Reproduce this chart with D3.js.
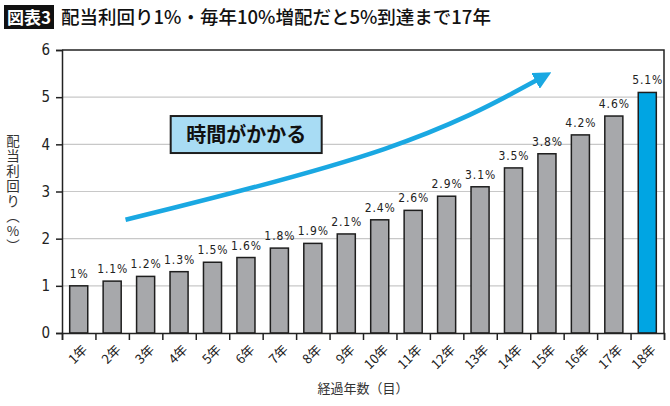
<!DOCTYPE html>
<html>
<head>
<meta charset="utf-8">
<script src="https://cdn.jsdelivr.net/npm/d3@7"></script>
<style>
  body { margin: 0; background: #fff; }
  svg { display: block; font-family: "Noto Sans CJK JP", "Noto Sans", sans-serif; }
  .vt { writing-mode: vertical-rl; text-orientation: upright; }
</style>
</head>
<body>
<div></div>
<script>
var years = ["1年","2年","3年","4年","5年","6年","7年","8年","9年","10年","11年","12年","13年","14年","15年","16年","17年","18年"];
var yields = [1, 1.1, 1.2, 1.3, 1.5, 1.6, 1.8, 1.9, 2.1, 2.4, 2.6, 2.9, 3.1, 3.5, 3.8, 4.2, 4.6, 5.1];
var valueLabels = ["1%","1.1%","1.2%","1.3%","1.5%","1.6%","1.8%","1.9%","2.1%","2.4%","2.6%","2.9%","3.1%","3.5%","3.8%","4.2%","4.6%","5.1%"];
var yTicks = [0, 1, 2, 3, 4, 5, 6];
// arrow path in data units: [band index, value]
var arrowPts = [[1.9, 2.4], [10.4, 3.9], [14.3, 5.4]];

var width = 670,
    height = 406,
    margin = {top: 50, right: 6, bottom: 73, left: 62};

var svg = d3.select("div")
    .append("svg")
    .attr("width", width)
    .attr("height", height);

// title
svg.append("rect")
    .attr("x", 4).attr("y", 5)
    .attr("width", 50).attr("height", 24)
    .attr("fill", "#111");
svg.append("text")
    .attr("x", 29).attr("y", 24)
    .attr("text-anchor", "middle")
    .attr("fill", "#fff")
    .attr("font-size", 17)
    .attr("font-weight", "bold")
    .text("図表3");
svg.append("text")
    .attr("x", 61).attr("y", 24)
    .attr("fill", "#111")
    .attr("font-size", 18.5)
    .attr("font-weight", 500)
    .text("配当利回り1%・毎年10%増配だと5%到達まで17年");

var g = svg.append("g")
    .attr("transform", "translate(" + margin.left + "," + margin.top + ")");

var w = width - margin.left - margin.right,
    h = height - margin.top - margin.bottom;

var x = d3.scaleBand().domain(years).range([0, w]).paddingInner(0.46).paddingOuter(0.23);
var xb = d3.scaleLinear().domain([0, years.length]).range([0, w]);
var y = d3.scaleLinear().domain([0, 6]).range([h, 0]);

// grid
g.append("g")
    .selectAll("line")
    .data(yTicks.filter(function (d) { return d > 0 && d < 6; }))
    .enter().append("line")
    .attr("x1", 0).attr("x2", w)
    .attr("y1", function (d) { return y(d); })
    .attr("y2", function (d) { return y(d); })
    .attr("stroke", "#c8c8c8")
    .attr("stroke-width", 1.2);

// frame top/right
g.append("path")
    .attr("d", "M0," + y(6) + "H" + w + "V" + h)
    .attr("fill", "none")
    .attr("stroke", "#222")
    .attr("stroke-width", 1.5);

// bars
g.append("g")
    .selectAll("rect")
    .data(yields)
    .enter().append("rect")
    .attr("x", function (d, i) { return x(years[i]); })
    .attr("y", function (d) { return y(d); })
    .attr("width", x.bandwidth())
    .attr("height", function (d) { return h - y(d); })
    .attr("fill", function (d, i) { return i === yields.length - 1 ? "#00a5e3" : "#a7a8ab"; })
    .attr("stroke", "#1e1e1e")
    .attr("stroke-width", 1.5);

// value labels
g.append("g")
    .selectAll("text")
    .data(yields)
    .enter().append("text")
    .attr("x", function (d, i) { return x(years[i]) + x.bandwidth() / 2 + 0.5; })
    .attr("y", function (d) { return y(d) - 8; })
    .attr("text-anchor", "middle")
    .attr("font-family", "DejaVu Sans Condensed, DejaVu Sans, sans-serif")
    .attr("font-size", 12)
    .attr("letter-spacing", 0.9)
    .attr("fill", "#222")
    .text(function (d, i) { return valueLabels[i]; });

// y axis
var yAxis = g.append("g")
    .call(d3.axisLeft(y).tickValues(yTicks).tickSize(6).tickPadding(6).tickFormat(d3.format("d")));
yAxis.select(".domain").attr("stroke", "#222").attr("stroke-width", 1.5);
yAxis.selectAll(".tick line").attr("stroke", "#222").attr("stroke-width", 1.5);
yAxis.selectAll("text")
    .attr("font-size", 15)
    .attr("font-family", "DejaVu Sans Condensed, DejaVu Sans, sans-serif")
    .attr("fill", "#222");

// x axis: ticks at band boundaries
var xAxis = g.append("g")
    .attr("transform", "translate(0," + h + ")")
    .call(d3.axisBottom(xb).tickValues(d3.range(0, years.length + 1)).tickSize(7).tickFormat(""));
xAxis.select(".domain").attr("stroke", "#222").attr("stroke-width", 1.5);
xAxis.selectAll(".tick line").attr("stroke", "#222").attr("stroke-width", 1.5);

g.append("g")
    .selectAll("text")
    .data(years)
    .enter().append("text")
    .attr("transform", function (d) {
        return "translate(" + (x(d) + x.bandwidth() / 2 + 7) + "," + (h + 15) + ") rotate(-45)";
    })
    .attr("text-anchor", "end")
    .attr("dominant-baseline", "middle")
    .attr("font-size", 13)
    .attr("fill", "#222")
    .text(function (d) { return d; });

// axis titles
svg.append("text")
    .attr("x", 363).attr("y", 393)
    .attr("text-anchor", "middle")
    .attr("font-size", 13)
    .attr("fill", "#333")
    .text("経過年数（目）");

svg.append("text")
    .attr("class", "vt")
    .attr("x", 13).attr("y", 134)
    .attr("font-size", 13.5)
    .attr("letter-spacing", 1.5)
    .attr("fill", "#333")
    .text("配当利回り（%）");

// arrow
var line = d3.line()
    .x(function (d) { return xb(d[0]); })
    .y(function (d) { return y(d[1]); })
    .curve(d3.curveBasis);

svg.append("defs").append("marker")
    .attr("id", "ah")
    .attr("viewBox", "0 0 10 10")
    .attr("refX", 3).attr("refY", 5)
    .attr("markerWidth", 4).attr("markerHeight", 4)
    .attr("orient", "auto")
    .append("path")
    .attr("d", "M0,0L10,5L0,10z")
    .attr("fill", "#1aa8e2");

g.append("path")
    .attr("d", line(arrowPts))
    .attr("fill", "none")
    .attr("stroke", "#1aa8e2")
    .attr("stroke-width", 4.5)
    .attr("marker-end", "url(#ah)");

// callout
g.append("rect")
    .attr("x", xb(3.25)).attr("y", y(4.6))
    .attr("width", 151).attr("height", 37)
    .attr("fill", "#a8dcf4")
    .attr("stroke", "#1e1e1e")
    .attr("stroke-width", 2);
g.append("text")
    .attr("x", xb(3.25) + 75.5).attr("y", y(4.6) + 26)
    .attr("text-anchor", "middle")
    .attr("font-size", 20)
    .attr("font-weight", "bold")
    .attr("fill", "#111")
    .text("時間がかかる");
</script>
</body>
</html>
